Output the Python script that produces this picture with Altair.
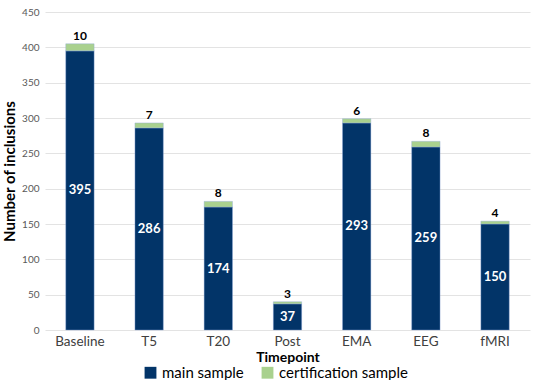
import altair as alt
import pandas as pd

categories = ["Baseline", "T5", "T20", "Post", "EMA", "EEG", "fMRI"]
main_sample = [395, 286, 174, 37, 293, 259, 150]
cert_sample = [10, 7, 8, 3, 6, 8, 4]
series = ["main sample", "certification sample"]
colors = ["#023468", "#A9D18E"]

rows = []
for c, m, s in zip(categories, main_sample, cert_sample):
    rows.append({"cat": c, "series": series[0], "value": m, "ord": 0, "mid": m / 2, "top": m + s})
    rows.append({"cat": c, "series": series[1], "value": s, "ord": 1, "mid": m / 2, "top": m + s})
df = pd.DataFrame(rows)

FONT = "Lato"

x = alt.X("cat:N", sort=categories, title="Timepoint",
          scale=alt.Scale(paddingInner=0.59, paddingOuter=0.3),
          axis=alt.Axis(labelAngle=0, labelFontSize=13.5, labelColor="#404040", labelFont=FONT,
                        labelPadding=4, titleFontSize=14, titleFont=FONT, titleFontWeight="bold",
                        titleColor="#000000", titlePadding=3, ticks=False, domain=False))

y_scale = alt.Scale(domain=[0, 450], nice=False)
y_axis = alt.Axis(values=list(range(0, 451, 50)), labelOverlap=False, labelFontSize=10,
                  labelColor="#595959", labelFont=FONT, labelPadding=6,
                  titleFontSize=15, titleFont=FONT, titleFontWeight="bold",
                  titleColor="#000000", titlePadding=4,
                  ticks=False, domain=False, gridColor="#e3e3e3")
Y_TITLE = "Number of inclusions"

bars = alt.Chart(df).mark_bar(stroke="#8faadc", strokeWidth=0.4).encode(
    x=x,
    y=alt.Y("value:Q", stack="zero", title=Y_TITLE, scale=y_scale, axis=y_axis),
    color=alt.Color("series:N", sort=series, scale=alt.Scale(domain=series, range=colors),
                    legend=alt.Legend(title=None, orient="none", direction="horizontal",
                                      legendX=98, legendY=353, labelFontSize=15, labelFont=FONT,
                                      labelColor="#000000", symbolType="square", symbolSize=140,
                                      symbolStrokeWidth=0, columnPadding=16)),
    order=alt.Order("ord:Q"),
)

main_df = df[df["ord"] == 0]
cert_df = df[df["ord"] == 1]

main_text = alt.Chart(main_df).mark_text(color="white", fontWeight="bold", fontSize=13, font=FONT).encode(
    x=x, y=alt.Y("mid:Q", title=Y_TITLE, scale=y_scale, axis=y_axis), text=alt.Text("value:Q"))
cert_text = alt.Chart(cert_df).mark_text(color="black", fontWeight="bold", fontSize=12, font=FONT, dy=-8).encode(
    x=x, y=alt.Y("top:Q", title=Y_TITLE, scale=y_scale, axis=y_axis), text=alt.Text("value:Q"))

chart = alt.layer(bars, main_text, cert_text).properties(
    width=485, height=318,
    autosize=alt.AutoSizeParams(type="none"),
    padding={"left": 45, "top": 12, "right": 6, "bottom": 50},
).configure(background="white", view=alt.ViewConfig(stroke=None))

chart.save("out.html", embed_options={"renderer": "svg", "actions": False})
